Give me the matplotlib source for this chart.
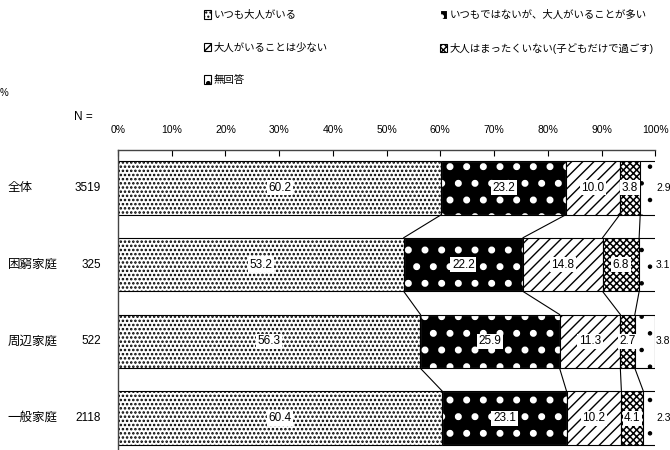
import numpy as np
import matplotlib
matplotlib.use("Agg")
import matplotlib.pyplot as plt
from matplotlib.patches import Patch

plt.rcParams["font.family"] = ["Liberation Sans Narrow", "Liberation Sans", "Noto Sans CJK JP", "DejaVu Sans"]
plt.rcParams["hatch.linewidth"] = 1.0

categories = ["全体", "困窮家庭", "周辺家庭", "一般家庭"]
n_values = ["3519", "325", "522", "2118"]
series_names = [
    "いつも大人がいる",
    "いつもではないが、大人がいることが多い",
    "大人がいることは少ない",
    "大人はまったくいない(子どもだけで過ごす)",
    "無回答",
]
always = [60.2, 53.2, 56.3, 60.4]
often = [23.2, 22.2, 25.9, 23.1]
seldom = [10.0, 14.8, 11.3, 10.2]
never = [3.8, 6.8, 2.7, 4.1]
no_answer = [2.9, 3.1, 3.8, 2.3]

data = np.array([always, often, seldom, never, no_answer])
# face, edge(hatch colour), hatch, hatch linewidth
styles = [
    ("white", "black", "....", 1.2),
    ("black", "white", ".", 2.6),
    ("white", "black", "///", 1.0),
    ("white", "black", "xxxxx", 1.1),
    ("white", "black", ".", 0.8),
]

fig = plt.figure(figsize=(6.7, 4.5), dpi=100)
ax = fig.add_axes([0.176, -0.007, 0.802, 0.674])

y = np.arange(len(categories))
h = 0.70
lefts = np.zeros(len(categories))
handles = []
for k, (vals, (fc, ec, hatch, hlw)) in enumerate(zip(data, styles)):
    with plt.rc_context({"hatch.linewidth": hlw}):
        ax.barh(y, vals, left=lefts, height=h, color=fc, edgecolor=ec,
                hatch=hatch, linewidth=0.8)
        handles.append(Patch(facecolor=fc, edgecolor=ec, hatch=hatch, linewidth=0.8))
    if ec != "black":
        ax.barh(y, vals, left=lefts, height=h, fill=False,
                edgecolor="black", linewidth=0.8)
    for i, v in enumerate(vals):
        if k == len(data) - 1:
            ax.text(100.15, y[i], f"{v:.1f}", ha="left", va="center", fontsize=7.5,
                    clip_on=False)
        else:
            ax.text(lefts[i] + v / 2, y[i], f"{v:.1f}", ha="center", va="center",
                    fontsize=8.5, bbox=dict(facecolor="white", edgecolor="none", pad=1.2))
    lefts = lefts + np.array(vals)

# series lines between bars
cum = np.cumsum(data, axis=0)[:-1]
for i in range(len(categories) - 1):
    for k in range(cum.shape[0]):
        ax.plot([cum[k, i], cum[k, i + 1]], [y[i] + h / 2, y[i + 1] - h / 2],
                color="black", linewidth=0.8)

ax.set_xlim(0, 100)
ax.set_ylim(3.454, -0.493)
ax.xaxis.tick_top()
ax.set_xticks(np.arange(0, 101, 10))
ax.set_xticklabels([f"{v}%" for v in range(0, 101, 10)], fontsize=7.5)
ax.tick_params(axis="x", direction="in", length=4, pad=11, width=0.8)
ax.set_yticks([])
ax.spines["right"].set_visible(False)
ax.spines["bottom"].set_visible(False)
ax.spines["top"].set_linewidth(1.0)
ax.spines["left"].set_linewidth(1.0)
ax.spines["top"].set_color("#444444")
ax.spines["left"].set_color("#444444")

trans = ax.get_yaxis_transform()
for i, (c, n) in enumerate(zip(categories, n_values)):
    ax.text(-0.205, y[i], c, ha="left", va="center", fontsize=9, transform=trans)
    ax.text(-0.032, y[i], n, ha="right", va="center", fontsize=8.5, transform=trans)

fig.text(83 / 670, 1 - 117 / 450, "N =", ha="center", va="center", fontsize=8.5)
fig.text(0.0, 1 - 93 / 450, "%", ha="left", va="center", fontsize=7)

leg_kw = dict(frameon=False, fontsize=7.5, handlelength=0.7, handleheight=0.9,
              handletextpad=0.2, labelspacing=2.15, borderpad=0, borderaxespad=0)
fig.legend([handles[0], handles[2], handles[4]],
           [series_names[0], series_names[2], series_names[4]],
           loc="upper left", bbox_to_anchor=(204 / 670, 1 - 10 / 450), **leg_kw)
fig.legend([handles[1], handles[3]], [series_names[1], series_names[3]],
           loc="upper left", bbox_to_anchor=(440 / 670, 1 - 10 / 450), **leg_kw)

fig.savefig("out.png", dpi=100)
